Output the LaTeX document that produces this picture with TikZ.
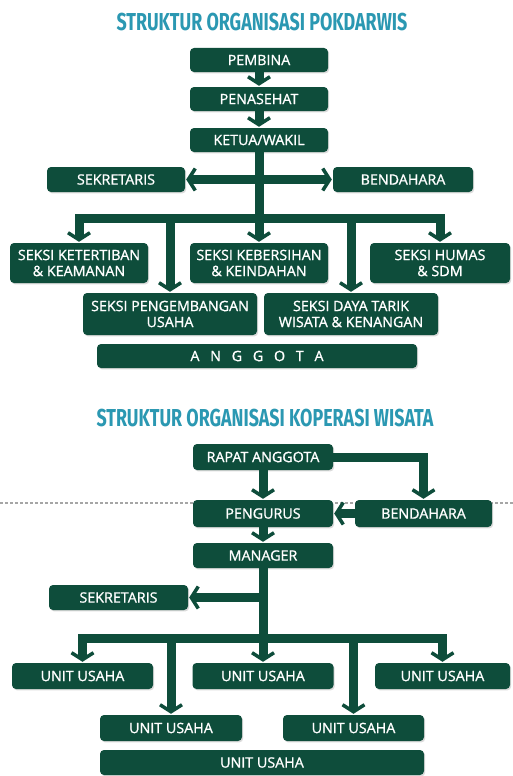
\documentclass[tikz,border=0pt]{standalone}
\usepackage{fontspec}
\setmainfont{Open Sans}[FakeBold=1.6,AutoFakeBold=1.6]
\newfontfamily\boxfont[FakeBold=1.1]{Open Sans}
\newfontfamily\titlefont[FakeStretch=0.73]{Fira Sans}
\usetikzlibrary{arrows.meta,shadows}
\definecolor{boxgreen}{HTML}{0E4D3B}
\definecolor{titleteal}{HTML}{2B98B2}
\tikzset{
  orgbox/.style={fill=boxgreen, rounded corners=4pt, text=white, inner sep=0pt,
    align=center, font=\boxfont\fontsize{14.3}{16}\selectfont,
    drop shadow={shadow xshift=1.2pt, shadow yshift=-1.4pt, opacity=0.28}},
  link/.style={draw=boxgreen, line width=9pt, line join=miter},
  arrowlink/.style={link, -{Straight Barb[length=7pt,width=22pt,line width=3.5pt]}, shorten >=1pt},
  dualarrow/.style={link, {Straight Barb[length=7pt,width=22pt,line width=3.5pt]}-{Straight Barb[length=7pt,width=22pt,line width=3.5pt]}, shorten >=1pt, shorten <=1pt},
  heading/.style={text=titleteal, font=\titlefont\bfseries\fontsize{24.5}{26}\selectfont},
}
\begin{document}
\begin{tikzpicture}[x=1pt,y=-1pt]
\useasboundingbox (0,0) rectangle (513,776);
\fill[white] (0,0) rectangle (513,776);

% ---------- Pokdarwis ----------
\node[heading] (title1) at (262,22) {STRUKTUR ORGANISASI POKDARWIS};

\node[orgbox, minimum width=138pt, minimum height=24pt] (pembina) at (259,60) {PEMBINA};
\node[orgbox, minimum width=138pt, minimum height=24pt] (penasehat) at (259,99) {PENASEHAT};
\node[orgbox, minimum width=138pt, minimum height=24pt] (ketua) at (259,140) {KETUA/WAKIL};
\node[orgbox, minimum width=138pt, minimum height=25pt] (sek1) at (116,179.5) {SEKRETARIS};
\node[orgbox, minimum width=140pt, minimum height=25pt] (bend1) at (403,179.5) {BENDAHARA};

\node[orgbox, minimum width=138pt, minimum height=40pt] (tertib) at (79,263) {SEKSI KETERTIBAN\\\& KEAMANAN};
\node[orgbox, minimum width=138pt, minimum height=40pt] (bersih) at (259,263) {SEKSI KEBERSIHAN\\\& KEINDAHAN};
\node[orgbox, minimum width=140pt, minimum height=40pt] (humas) at (440,263) {SEKSI HUMAS\\\& SDM};
\node[orgbox, minimum width=174pt, minimum height=42pt] (usaha) at (170,314) {SEKSI PENGEMBANGAN\\USAHA};
\node[orgbox, minimum width=174pt, minimum height=42pt] (daya) at (351,314) {SEKSI DAYA TARIK\\WISATA \& KENANGAN};
\node[orgbox, minimum width=320pt, minimum height=24pt] (anggota) at (257,356) {A\hspace{0.75em}N\hspace{0.75em}G\hspace{0.75em}G\hspace{0.75em}O\hspace{0.75em}T\hspace{0.75em}A};

\coordinate (bar1) at (259,218);

\draw[arrowlink] (pembina) -- (penasehat);
\draw[arrowlink] (penasehat) -- (ketua);
\draw[link] (ketua.south) -- (bar1);
\draw[dualarrow] (sek1.east) -- (bend1.west);
\draw[arrowlink] (bar1) -| (tertib.north);
\draw[arrowlink] (bar1) -| (humas.north);
\draw[arrowlink] (bar1) -- (bersih.north);
\draw[arrowlink] (bar1) -| (usaha.north);
\draw[arrowlink] (bar1) -| (daya.north);

% ---------- Koperasi Wisata ----------
\node[heading] (title2) at (265,418) {STRUKTUR ORGANISASI KOPERASI WISATA};

\coordinate (dashl) at (0,503);
\coordinate (dashr) at (513,503);
\draw[gray!70, line width=1.2pt, dash pattern=on 3pt off 2pt] (dashl) -- (dashr);

\node[orgbox, minimum width=140pt, minimum height=26pt] (rapat) at (263,457) {RAPAT ANGGOTA};
\node[orgbox, minimum width=140pt, minimum height=27pt] (pengurus) at (263,513.5) {PENGURUS};
\node[orgbox, minimum width=137pt, minimum height=27pt] (bend2) at (423.5,513.5) {BENDAHARA};
\node[orgbox, minimum width=140pt, minimum height=25pt] (manager) at (263,555.5) {MANAGER};
\node[orgbox, minimum width=139pt, minimum height=25pt] (sek2) at (118.5,597.5) {SEKRETARIS};

\node[orgbox, minimum width=141pt, minimum height=26pt] (ua) at (82.5,676) {UNIT USAHA};
\node[orgbox, minimum width=141pt, minimum height=26pt] (ub) at (263,676) {UNIT USAHA};
\node[orgbox, minimum width=135pt, minimum height=26pt] (uc) at (442.5,676) {UNIT USAHA};
\node[orgbox, minimum width=142pt, minimum height=26pt] (ud) at (171,728) {UNIT USAHA};
\node[orgbox, minimum width=141pt, minimum height=26pt] (ue) at (353.5,728) {UNIT USAHA};
\node[orgbox, minimum width=324pt, minimum height=25pt] (uf) at (262,762.5) {UNIT USAHA};

\coordinate (bar2) at (263,638);

\draw[arrowlink] (rapat) -- (pengurus);
\draw[arrowlink] (rapat.east) -| (bend2.north);
\draw[arrowlink] (bend2.west) -- (pengurus.east);
\draw[arrowlink] (pengurus) -- (manager);
\draw[link] (manager.south) -- (bar2);
\draw[arrowlink] (manager.south |- sek2.east) -- (sek2.east);
\draw[arrowlink] (bar2) -| (ua.north);
\draw[arrowlink] (bar2) -- (ub.north);
\draw[arrowlink] (bar2) -| (uc.north);
\draw[arrowlink] (bar2) -| (ud.north);
\draw[arrowlink] (bar2) -| (ue.north);
\end{tikzpicture}
\end{document}
